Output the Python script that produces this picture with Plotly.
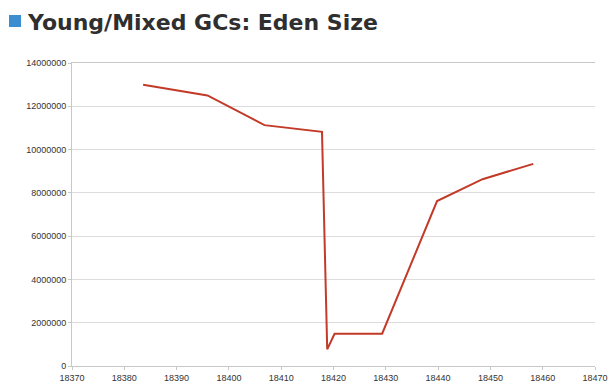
import plotly.graph_objects as go

gc_time = [18383.6, 18395.9, 18406.8, 18417.8, 18418.8, 18420.2, 18429.3, 18439.8, 18448.5, 18458.2]
eden_size = [13000000, 12500000, 11130000, 10820000, 770000, 1490000, 1490000, 7620000, 8630000, 9340000]

x_ticks = list(range(18370, 18471, 10))
y_ticks = list(range(0, 14000001, 2000000))

W, H = 615, 392
L, R, T, B = 72, 20, 63, 26
PW, PH = W - L - R, H - T - B

fig = go.Figure()
fig.add_trace(go.Scatter(
    x=gc_time, y=eden_size, mode="lines",
    line=dict(color="#c23a28", width=2),
    hoverinfo="skip", showlegend=False,
))

fig.update_layout(
    width=W, height=H,
    margin=dict(l=L, r=R, t=T, b=B, autoexpand=False),
    paper_bgcolor="white", plot_bgcolor="white",
    font=dict(family="Liberation Sans, Arial, sans-serif", size=9, color="#333333"),
    showlegend=False,
)

fig.update_xaxes(
    range=[18370, 18470], tickvals=x_ticks, ticktext=[str(v) for v in x_ticks],
    showgrid=False, zeroline=False, automargin=False, ticklabeloverflow="allow",
    showline=True, linecolor="#c8c8c8", linewidth=1, mirror=True,
    ticks="outside", ticklen=3, tickcolor="#c8c8c8",
    tickfont=dict(size=9, color="#333333"),
)
fig.update_yaxes(
    range=[0, 14000000], tickvals=y_ticks, ticktext=[str(v) for v in y_ticks],
    showgrid=True, gridcolor="#dcdcdc", gridwidth=1, zeroline=False, automargin=False,
    showline=True, linecolor="#c8c8c8", linewidth=1, mirror=False,
    ticks="outside", ticklen=3, tickcolor="#c8c8c8",
    tickfont=dict(size=9, color="#333333"),
)

def px(xp):
    return (xp - L) / PW

def py(yp):
    return (H - B - yp) / PH

fig.add_shape(type="rect", xref="paper", yref="paper",
              x0=px(9), x1=px(21), y0=py(27), y1=py(15),
              fillcolor="#3b8fd0", line=dict(width=0))
fig.add_annotation(
    text="<b>Young/Mixed GCs: Eden Size</b>",
    xref="paper", yref="paper",
    x=px(25), y=py(23),
    xanchor="left", yanchor="middle", showarrow=False,
    font=dict(family="DejaVu Sans", size=22, color="#2f2f2f"),
)

fig.write_html(
    "out.html",
    config={"displayModeBar": False, "staticPlot": True},
    post_script="document.body.style.margin='0px';document.body.style.overflow='hidden';",
)
